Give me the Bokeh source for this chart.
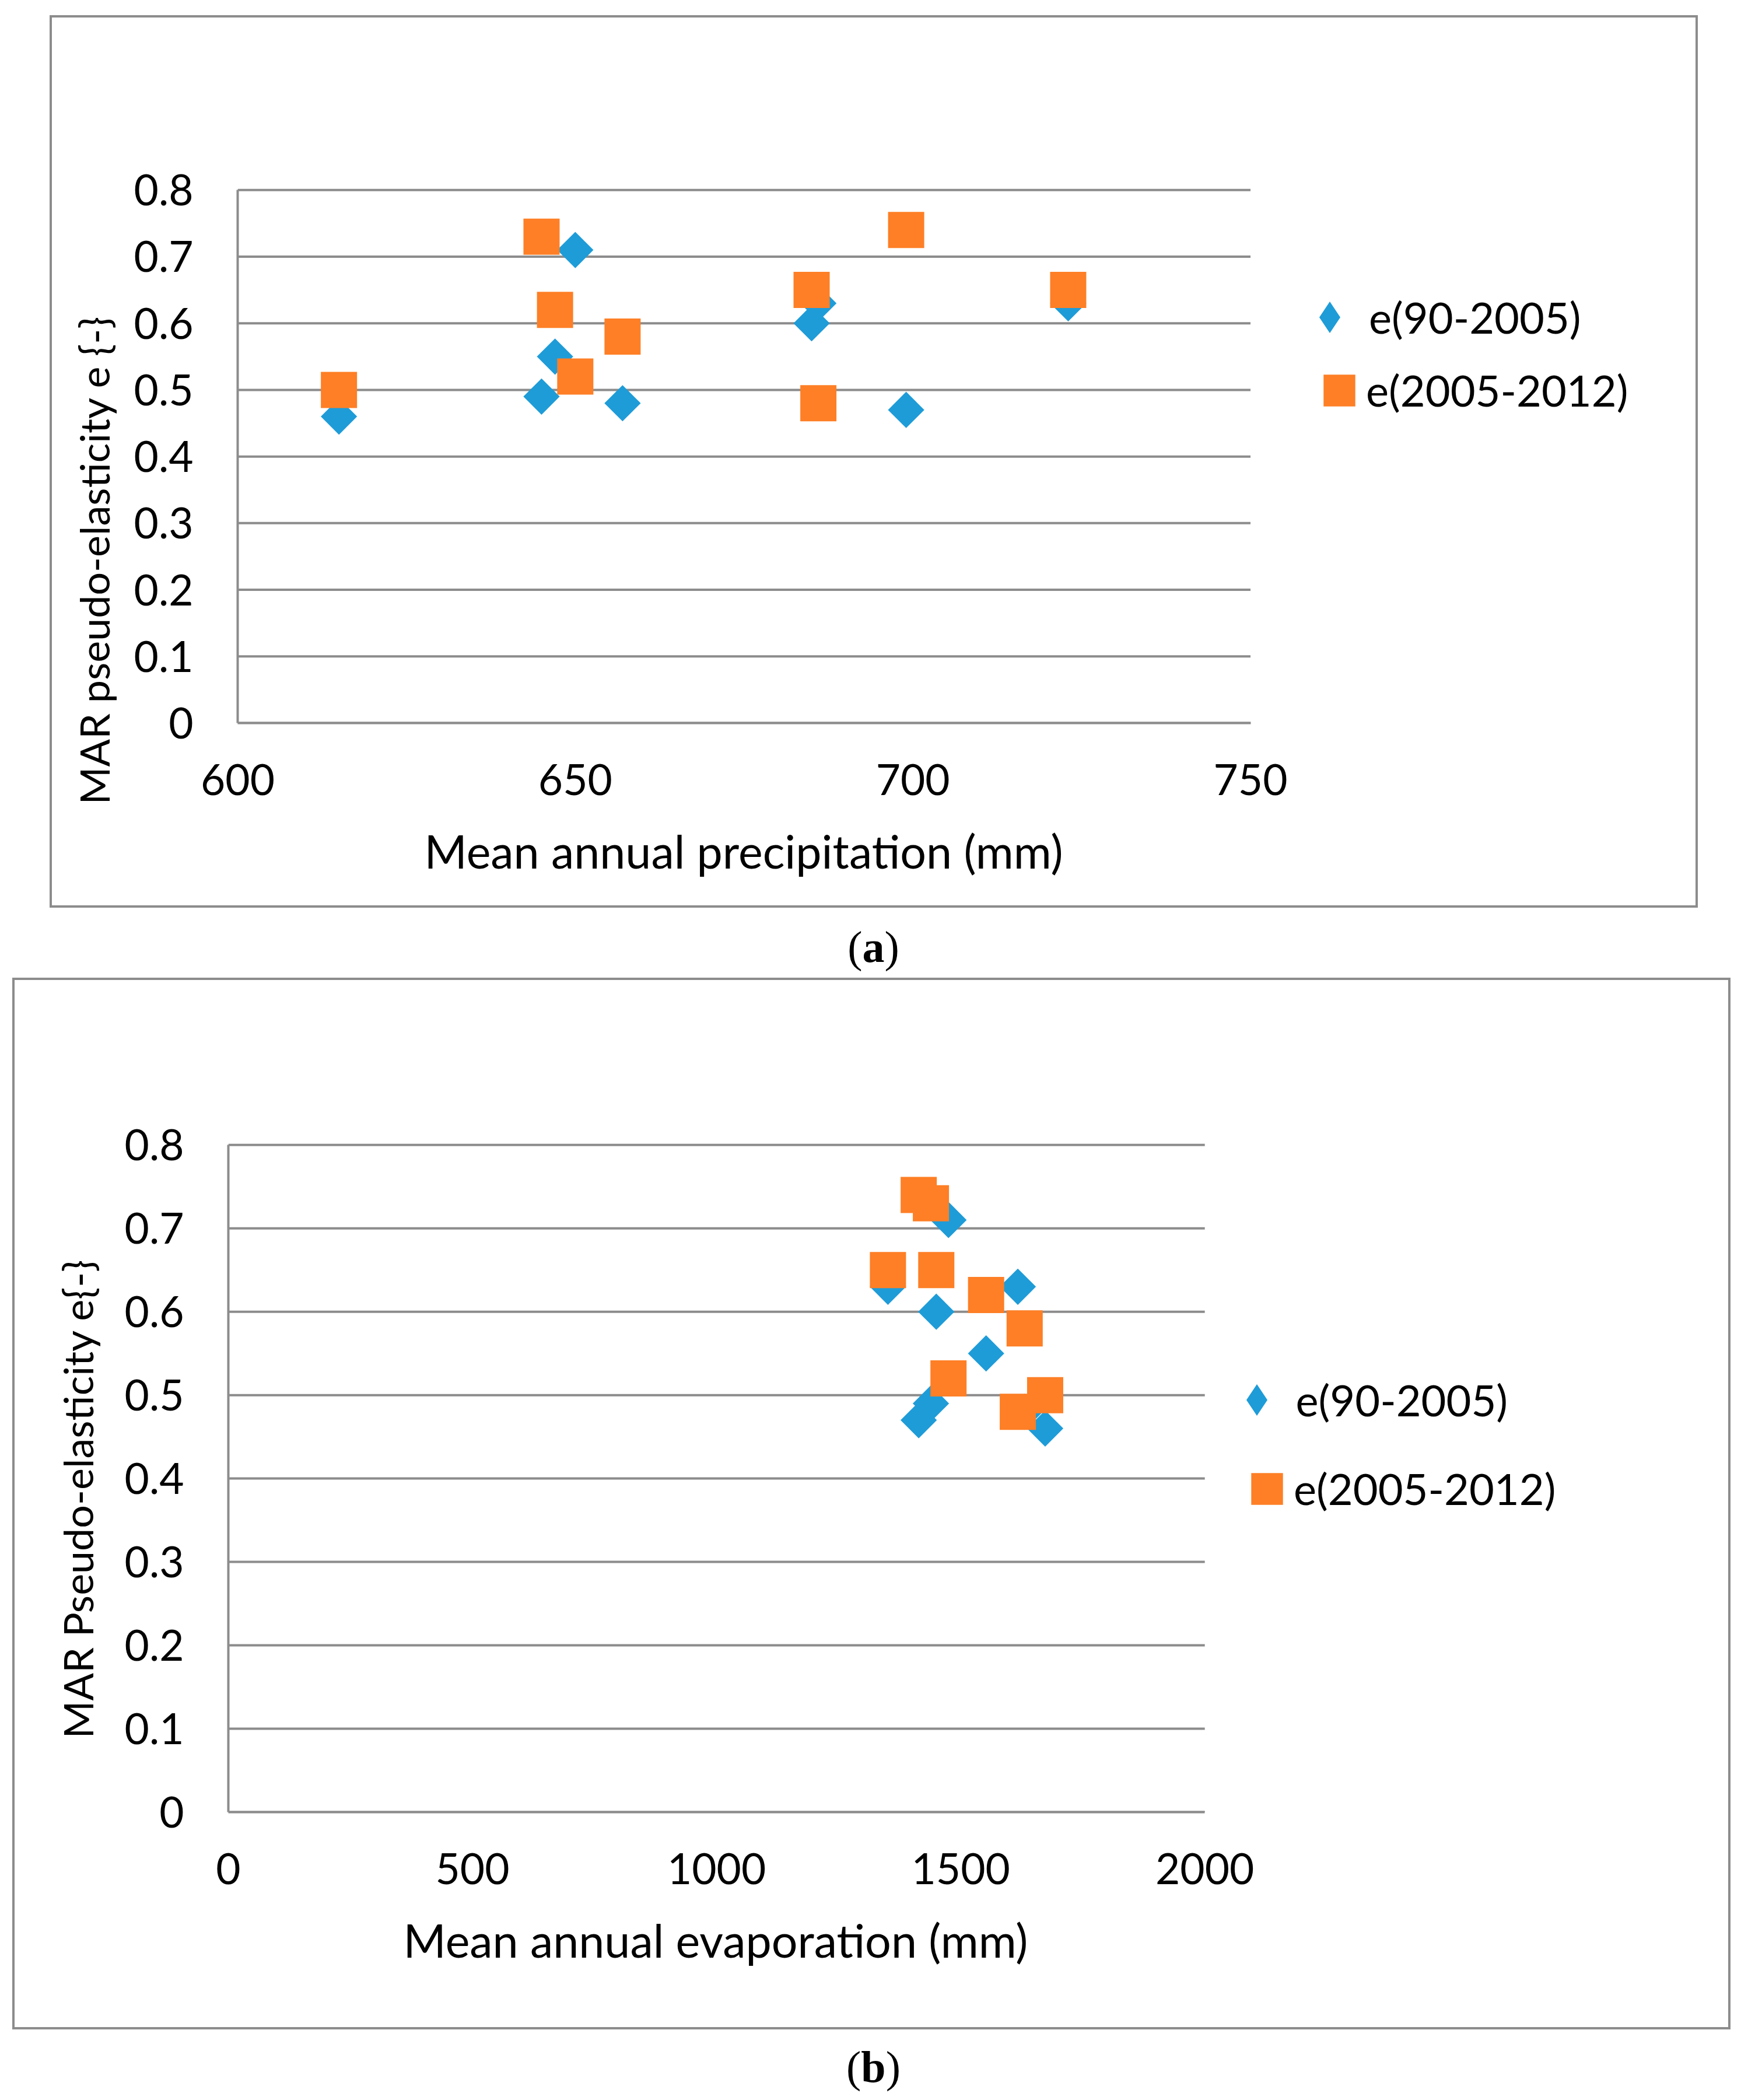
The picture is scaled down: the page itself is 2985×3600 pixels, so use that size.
import math
from bokeh.plotting import figure
from bokeh.models import (FixedTicker, CustomJSTickFormatter, Legend, LegendItem,
                          Range1d, Div, Title)
from bokeh.embed import file_html
from bokeh.resources import INLINE

# ---------------- data ----------------
precip = [615, 645, 647, 650, 657, 685, 686, 699, 723]          # mm
evap = [1673, 1439, 1552, 1475, 1631, 1450, 1617, 1414, 1351]   # mm
e_90_2005 = [0.46, 0.49, 0.55, 0.71, 0.48, 0.60, 0.63, 0.47, 0.63]
e_2005_2012 = [0.50, 0.73, 0.62, 0.52, 0.58, 0.65, 0.48, 0.74, 0.65]

series_names = ["e(90-2005)", "e(2005-2012)"]
y_ticks = [0, 0.1, 0.2, 0.3, 0.4, 0.5, 0.6, 0.7, 0.8]
x_ticks_a = [600, 650, 700, 750]
x_ticks_b = [0, 500, 1000, 1500, 2000]

GREY = "#8c8c8c"
BLUE = "#1e9cd8"
ORANGE = "#fe7f26"
FONT = "Lato"


def make_chart(x, xticks, xlabel, ylabel, W, H, L, T, B, plot_w, margin,
               leg1, leg2, xlab, ylab):
    x0, x1 = xticks[0], xticks[-1]
    pad = 12                                   # room so the top grid line is not clipped
    frame_w = W - L
    frame_h = H - T - B
    x_end = x0 + (x1 - x0) * frame_w / plot_w  # plot area ends at x1, legend lives beyond
    y_end = y_ticks[-1] * frame_h / (frame_h - pad)
    p = figure(width=W, height=H, x_range=Range1d(x0, x_end), y_range=Range1d(0, y_end),
               output_backend="svg", toolbar_location=None,
               min_border_left=L, min_border_right=0,
               min_border_top=T - pad, min_border_bottom=B,
               margin=margin,
               styles={"border": "4px solid " + GREY, "box-sizing": "content-box"})
    p.outline_line_color = None
    p.background_fill_color = "white"
    p.border_fill_color = "white"
    p.xgrid.grid_line_color = None
    p.ygrid.grid_line_color = None

    # horizontal grid lines across the plot area only
    p.segment(x0=[x0] * len(y_ticks), x1=[x1] * len(y_ticks), y0=y_ticks, y1=y_ticks,
              line_color=GREY, line_width=4)

    p.scatter(x, e_90_2005, marker="square", angle=math.pi / 4, size=44,
              fill_color=BLUE, line_color=None)
    p.scatter(x, e_2005_2012, marker="square", size=62,
              fill_color=ORANGE, line_color=None)

    # hidden renderers that only provide the legend keys (diamond and square)
    k1 = p.scatter(x, e_90_2005, marker="diamond", fill_color=BLUE, line_color=None,
                   visible=False)
    k2 = p.rect(x, e_2005_2012, width=1, height=0.01, fill_color=ORANGE, line_color=None,
                visible=False)

    p.yaxis.ticker = FixedTicker(ticks=y_ticks)
    p.xaxis.ticker = FixedTicker(ticks=xticks)
    p.yaxis.formatter = CustomJSTickFormatter(code="return tick == 0 ? '0' : tick.toFixed(1);")
    p.xaxis.bounds = (x0, x1)
    p.yaxis.bounds = (0, y_ticks[-1])

    for ax in (p.xaxis[0], p.yaxis[0]):
        ax.axis_line_color = GREY
        ax.axis_line_width = 4
        ax.major_tick_line_color = None
        ax.minor_tick_line_color = None
        ax.major_label_text_font = FONT
        ax.major_label_text_font_size = "73px"
        ax.major_label_text_color = "black"
    p.yaxis.major_label_standoff = 70
    p.xaxis.major_label_standoff = 64

    # axis titles (as titles so they can be placed on the plot area)
    p.add_layout(Title(text=xlabel, align="left", offset=xlab[0], standoff=xlab[1],
                       text_font=FONT, text_font_size="79px", text_font_style="normal",
                       text_color="black"), "below")
    p.add_layout(Title(text=ylabel, align="left", offset=ylab[0], standoff=ylab[1],
                       text_font=FONT, text_font_size="70px", text_font_style="normal",
                       text_color="black"), "left")

    for r, name, g, loc, so in ((k1, series_names[0], 135, leg1, 0),
                                (k2, series_names[1], 68, leg2, 12)):
        lg = Legend(items=[LegendItem(label=name, renderers=[r])], location=loc,
                    glyph_width=g, glyph_height=g, label_standoff=so,
                    padding=0, margin=0, spacing=0, border_line_color=None,
                    background_fill_alpha=0, label_text_font=FONT,
                    label_text_font_size="74px", label_text_color="black",
                    label_height=g)
        p.add_layout(lg, "center")
    return p


def caption(letter, height, top):
    html = ('<div style="position:relative; top:%dpx; left:5px; width:2985px; text-align:center; '
            'font-family:\'Liberation Serif\'; font-size:76px; line-height:76px; color:black;">'
            '(<b>%s</b>)</div>' % (top, letter))
    return Div(text=html, width=2985, height=height, margin=(0, 0, 0, 0))


pA = make_chart(precip, x_ticks_a, "Mean annual precipitation (mm)",
                "MAR pseudo-elasticity e {-}", 2818, 1522, 318, 295, 321, 1731,
                (26, 0, 0, 85), (1805, 628.5), (1855, 526),
                (320, 86), (-140, 48))
capA = caption("a", 120, 29)
pB = make_chart(evap, x_ticks_b, "Mean annual evaporation (mm)",
                "MAR Pseudo-elasticity e{-}", 2938, 1795, 366, 282, 377, 1669,
                (0, 0, 0, 21), (1695.5, 639.5), (1747, 510),
                (300, 86), (126, 72))
capB = caption("b", 110, 26)

open("out.html", "w").write(file_html([pA, capA, pB, capB], INLINE))
